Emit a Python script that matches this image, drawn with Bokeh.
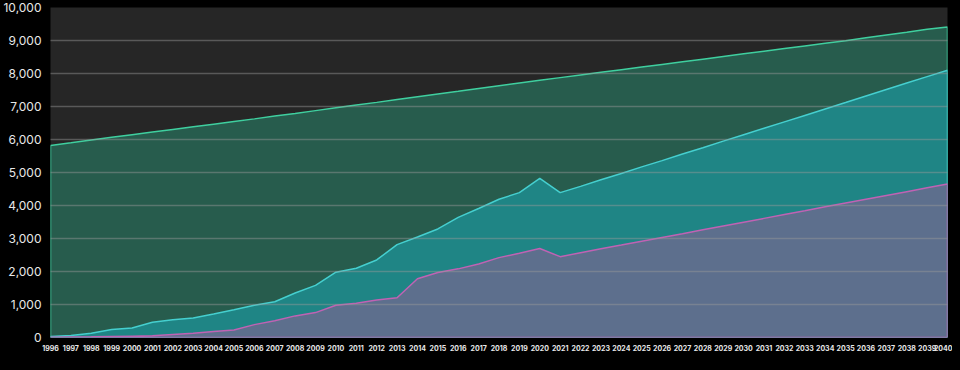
from bokeh.plotting import figure
from bokeh.models import FixedTicker, NumeralTickFormatter, ColumnDataSource
from bokeh.embed import file_html
from bokeh.resources import INLINE

years = list(range(1996, 2041))

series_green = [5820, 5900, 5985, 6065, 6145, 6225, 6305, 6385, 6465, 6545,
                6625, 6710, 6790, 6875, 6960, 7045, 7125, 7210, 7295, 7380,
                7460, 7545, 7630, 7715, 7795, 7875, 7955, 8035, 8115, 8195,
                8275, 8355, 8435, 8515, 8595, 8675, 8755, 8835, 8915, 8995,
                9080, 9165, 9250, 9340, 9410]

series_teal = [30, 60, 130, 240, 290, 460, 540, 590, 710, 840,
               975, 1085, 1350, 1580, 1980, 2100, 2350, 2815, 3045, 3290,
               3640, 3910, 4190, 4390, 4825, 4390, 4580, 4780, 4970, 5170,
               5360, 5560, 5750, 5950, 6145, 6340, 6535, 6730, 6925, 7120,
               7320, 7515, 7710, 7905, 8100]

series_purple = [10, 15, 20, 30, 40, 50, 90, 130, 180, 230,
                 390, 505, 655, 755, 975, 1035, 1135, 1205, 1780, 1970,
                 2080, 2230, 2420, 2550, 2695, 2450, 2570, 2690, 2800, 2915,
                 3030, 3145, 3265, 3380, 3495, 3610, 3725, 3840, 3960, 4075,
                 4190, 4305, 4420, 4535, 4650]

y_ticks = [0, 1000, 2000, 3000, 4000, 5000, 6000, 7000, 8000, 9000, 10000]

p = figure(width=952, height=354, output_backend="svg", toolbar_location=None,
           x_range=(1996, 2040), y_range=(0, 10000),
           min_border_left=50, min_border_right=5, min_border_top=7,
           min_border_bottom=17)
p.background_fill_color = "#262626"
p.border_fill_color = "#000000"
p.outline_line_color = None

def area(vals, fill, line):
    xs = years + years[::-1]
    ys = vals + [0] * len(vals)
    src = ColumnDataSource(dict(x=xs, y=ys))
    p.patch("x", "y", source=src, fill_color=fill, fill_alpha=1.0,
            line_color=line, line_width=1.5)

area(series_green, "#275c4d", "#3fcf9f")
area(series_teal, "#1f8585", "#45cfcf")
area(series_purple, "#5d6f8d", "#c062b4")

p.xaxis.ticker = FixedTicker(ticks=years)
p.yaxis.ticker = FixedTicker(ticks=y_ticks)
p.yaxis.formatter = NumeralTickFormatter(format="0,0")

for ax in (p.xaxis[0], p.yaxis[0]):
    ax.axis_line_color = None
    ax.major_tick_line_color = None
    ax.minor_tick_line_color = None
    ax.major_tick_out = 0
    ax.major_tick_in = 0
    ax.minor_tick_out = 0
    ax.major_label_text_color = "#e8e8e8"
    ax.major_label_text_font = "Inter"

p.xaxis.major_label_text_font_size = "7px"
p.xaxis.major_label_text_font_style = "bold"
p.xaxis.major_label_standoff = 7
p.yaxis.major_label_text_font_size = "12px"
p.yaxis.major_label_standoff = 9

p.xgrid.grid_line_color = None
p.ygrid.grid_line_color = "#9a9a9a"
p.ygrid.grid_line_alpha = 0.45
p.ygrid.grid_line_width = 1.5
p.ygrid.level = "overlay"

html = file_html(p, INLINE)
i = html.rfind("<body")
if i >= 0:
    html = html[:i] + '<body style="background-color:#000000;"' + html[i + 5:]
open("out.html", "w").write(html)
